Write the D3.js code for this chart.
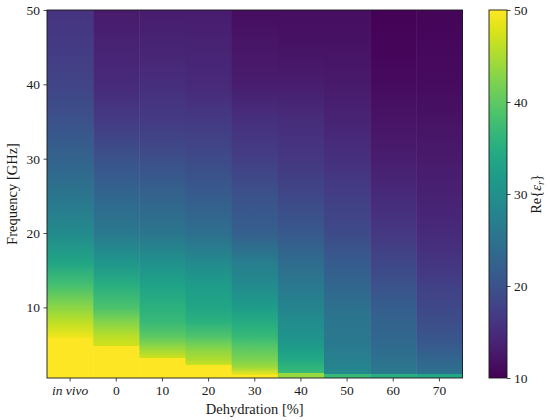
<!DOCTYPE html>
<html lang="en">
<head>
  <meta charset="UTF-8">
  <script src="https://d3js.org/d3.v7.min.js"></script>
  <style>
    body { margin: 0; background: #fff; }
    text { font-family: "Liberation Serif", serif; fill: #1a1a1a; }
    .tick line { stroke: #1a1a1a; stroke-width: 0.8px; }
  </style>
  <title>Dehydration permittivity map</title>
</head>
<body>
  <svg id="chart" width="550" height="420"></svg>
  <script>
    // columns of the map
    var dehydration = ["in vivo", "0", "10", "20", "30", "40", "50", "60", "70"];

    // frequency samples [GHz] above the low band
    var freqs = [2, 3, 4, 5, 6, 8, 10, 13, 16, 20, 25, 30, 35, 40, 45, 50];

    // low band (0.5 GHz up to edgeFreq) and value just above the edge
    var edgeFreq = [5.9, 4.8, 3.2, 2.2, 0.9, 1.2, 1.1, 1.1, 1.1];
    var lowVal = [55, 55, 55, 55, 52, 43.6, 37, 35, 34];
    var edgeVal = [49.5, 47, 47, 47, 49, 37, 29, 26.5, 25];

    // Re{eps_r} read along frequency, null = inside low band
    var reInVivo = [null, null, null, null, 49, 46, 43, 38, 33.5, 29, 25.5, 22.5, 20, 18, 17, 16];
    var re0 = [null, null, null, 47, 46, 42.5, 38.5, 35, 31, 26, 23, 20, 17, 14.8, 13.8, 12.8];
    var re10 = [null, null, 45, 42.5, 40, 37, 35.6, 33, 30, 25.5, 22.5, 19.5, 17, 15.2, 14, 13];
    var re20 = [null, 45, 43.5, 41.5, 39, 35.5, 33.5, 32, 29, 24.5, 21.5, 19, 16.8, 14.6, 13.8, 13];
    var re30 = [44, 42, 40.5, 39, 37, 34.5, 32, 29, 27, 22, 20, 17.3, 15.5, 13.2, 12.2, 11.4];
    var re40 = [36, 34, 32.8, 31.5, 30.5, 29.5, 28, 26, 24, 21, 18.5, 16.4, 15, 13.2, 12, 11.4];
    var re50 = [28, 27.3, 26.8, 26.4, 26, 25.5, 24.8, 23, 21.5, 19, 17.2, 15.6, 14, 12.8, 12, 11.4];
    var re60 = [25.5, 24.8, 24.2, 23.7, 23.2, 22.6, 21.8, 20, 18.5, 16.5, 14.8, 13.2, 12.1, 11.1, 10.6, 10.3];
    var re70 = [24, 23, 22, 21.2, 20.5, 19.5, 18.6, 17.5, 16.2, 14.8, 13.6, 12.8, 12, 11.2, 10.9, 10.6];
    var series = [reInVivo, re0, re10, re20, re30, re40, re50, re60, re70];

    var yTicks = [10, 20, 30, 40, 50];
    var cTicks = [10, 20, 30, 40, 50];

    var svg = d3.select("#chart");
    var defs = svg.append("defs");

    var plot = { left: 47, right: 462.5, top: 10, bottom: 378 };
    var cbar = { left: 489, right: 507 };

    var x = d3.scaleBand().domain(dehydration).range([plot.left, plot.right]);
    var y = d3.scaleLinear().domain([0.5, 50]).range([plot.bottom, plot.top]);
    var color = d3.scaleSequential(d3.interpolateViridis).domain([10, 50]).clamp(true);

    function offset(f) {
      return (y(f) - y(0.5)) / (y(50) - y(0.5));
    }

    // one vertical gradient per column
    dehydration.forEach(function (d, i) {
      var stops = [[0.5, lowVal[i]], [edgeFreq[i], lowVal[i]], [edgeFreq[i], edgeVal[i]]];
      freqs.forEach(function (f, j) {
        if (series[i][j] != null && f > edgeFreq[i]) stops.push([f, series[i][j]]);
      });
      var grad = defs.append("linearGradient")
        .attr("id", "col" + i)
        .attr("gradientUnits", "userSpaceOnUse")
        .attr("x1", 0).attr("x2", 0)
        .attr("y1", y(0.5)).attr("y2", y(50));
      grad.selectAll("stop")
        .data(stops)
        .enter().append("stop")
        .attr("offset", function (s) { return offset(s[0]); })
        .attr("stop-color", function (s) { return color(s[1]); });
    });

    svg.append("g").selectAll("rect")
      .data(dehydration)
      .enter().append("rect")
      .attr("x", function (d) { return x(d); })
      .attr("y", y(50))
      .attr("width", x.bandwidth() + 0.5)
      .attr("height", y(0.5) - y(50))
      .attr("fill", function (d, i) { return "url(#col" + i + ")"; });

    // frame
    svg.append("rect")
      .attr("x", plot.left).attr("y", plot.top)
      .attr("width", plot.right - plot.left).attr("height", plot.bottom - plot.top)
      .attr("fill", "none").attr("stroke", "#1a1a1a").attr("stroke-width", 0.9);

    // axes
    var yAxis = svg.append("g")
      .attr("transform", "translate(" + plot.left + ",0)")
      .call(d3.axisLeft(y).tickValues(yTicks).tickSize(3.5).tickPadding(3.5).tickSizeOuter(0));
    yAxis.select(".domain").remove();
    yAxis.selectAll("text").style("font-size", "13.5px");

    var xAxis = svg.append("g")
      .attr("transform", "translate(0," + plot.bottom + ")")
      .call(d3.axisBottom(x).tickSize(3.5).tickPadding(3.5).tickSizeOuter(0));
    xAxis.select(".domain").remove();
    xAxis.selectAll("text")
      .style("font-size", "13.5px")
      .style("font-style", function (d) { return d === "in vivo" ? "italic" : "normal"; });

    svg.append("text")
      .attr("x", (plot.left + plot.right) / 2)
      .attr("y", 414)
      .attr("text-anchor", "middle")
      .style("font-size", "14.5px")
      .text("Dehydration [%]");

    svg.append("text")
      .attr("transform", "translate(17," + (plot.top + plot.bottom) / 2 + ") rotate(-90)")
      .attr("text-anchor", "middle")
      .style("font-size", "14.5px")
      .text("Frequency [GHz]");

    // colorbar
    var cy = d3.scaleLinear().domain([10, 50]).range([plot.bottom, plot.top]);
    var cgrad = defs.append("linearGradient")
      .attr("id", "cbar")
      .attr("x1", 0).attr("x2", 0).attr("y1", 1).attr("y2", 0);
    cgrad.selectAll("stop")
      .data(d3.range(0, 1.0001, 0.05))
      .enter().append("stop")
      .attr("offset", function (t) { return t; })
      .attr("stop-color", function (t) { return color(10 + 40 * t); });

    svg.append("rect")
      .attr("x", cbar.left).attr("y", plot.top)
      .attr("width", cbar.right - cbar.left).attr("height", plot.bottom - plot.top)
      .attr("fill", "url(#cbar)")
      .attr("stroke", "#1a1a1a").attr("stroke-width", 0.9);

    var cAxis = svg.append("g")
      .attr("transform", "translate(" + cbar.right + ",0)")
      .call(d3.axisRight(cy).tickValues(cTicks).tickSize(3.5).tickPadding(3.5).tickSizeOuter(0));
    cAxis.select(".domain").remove();
    cAxis.selectAll("text").style("font-size", "13.5px");

    var clabel = svg.append("text")
      .attr("transform", "translate(541," + (plot.top + plot.bottom) / 2 + ") rotate(-90)")
      .attr("text-anchor", "middle")
      .style("font-size", "14.5px");
    clabel.append("tspan").text("Re{");
    clabel.append("tspan").style("font-style", "italic").text("ε");
    clabel.append("tspan").style("font-style", "italic").style("font-size", "10px").attr("dy", 3).text("r");
    clabel.append("tspan").attr("dy", -3).text("}");
  </script>
</body>
</html>
